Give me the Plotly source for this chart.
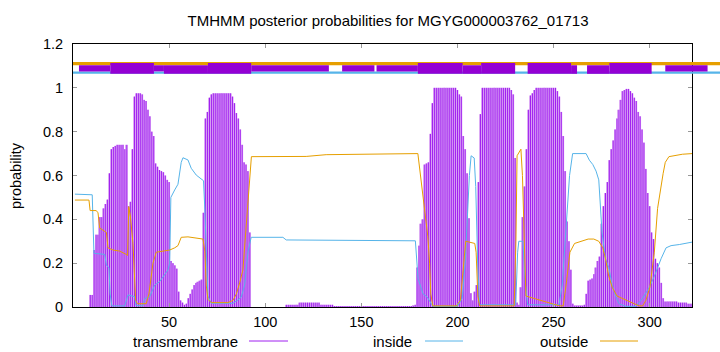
import plotly.graph_objects as go

# ---------------- data ----------------
residues = list(range(1, 323))
tm_prob = [
    0, 0, 0, 0, 0, 0, 0, 0, 0.055, 0.055,
    0.26, 0.33, 0.33, 0.41, 0.41, 0.45, 0.47, 0.49, 0.61, 0.72,
    0.73, 0.735, 0.74, 0.74, 0.74, 0.74, 0.72, 0.74, 0.46, 0.48,
    0.72, 0.96, 0.975, 0.975, 0.975, 0.97, 0.945, 0.94, 0.90, 0.87,
    0.80, 0.78, 0.655, 0.64, 0.625, 0.62, 0.615, 0.60, 0.58, 0.57,
    0.21, 0.20, 0.19, 0.175, 0.07, 0.03, 0.02, 0.01, 0.015, 0.04,
    0.06, 0.08, 0.10, 0.11, 0.115, 0.12, 0.125, 0.43, 0.86, 0.89,
    0.955, 0.97, 0.975, 0.975, 0.975, 0.975, 0.975, 0.975, 0.975, 0.975,
    0.975, 0.975, 0.96, 0.93, 0.885, 0.86, 0.81, 0.74, 0.66, 0.65,
    0.62, 0.34, 0, 0, 0, 0, 0, 0, 0, 0,
    0, 0, 0, 0, 0, 0, 0, 0, 0, 0,
    0.01, 0.01, 0.01, 0.01, 0.01, 0.01, 0.01, 0.02, 0.02, 0.02,
    0.02, 0.02, 0.02, 0.02, 0.02, 0.02, 0.02, 0.02, 0.01, 0.01,
    0.01, 0.01, 0.01, 0.01, 0.01, 0.004, 0.004, 0.004, 0.004, 0.004,
    0.004, 0.004, 0.004, 0.004, 0.004, 0.004, 0.004, 0.004, 0.004, 0.004,
    0.004, 0.004, 0.004, 0.004, 0.004, 0.004, 0.004, 0.004, 0.004, 0.004,
    0.004, 0.004, 0.004, 0.004, 0.004, 0.004, 0.004, 0.004, 0.004, 0.004,
    0.004, 0.004, 0.004, 0.004, 0.004, 0.004, 0.005, 0.01, 0.18, 0.28,
    0.38, 0.40, 0.65, 0.655, 0.66, 0.79, 0.93, 1.0, 1.0, 1.0,
    1.0, 1.0, 1.0, 1.0, 1.0, 1.0, 1.0, 1.0, 1.0, 0.99,
    0.97, 0.96, 0.78, 0.72, 0.61, 0.405, 0.063, 0.03, 0.07, 0.10,
    0.57, 0.88, 1.0, 1.0, 1.0, 1.0, 1.0, 1.0, 1.0, 1.0,
    1.0, 1.0, 1.0, 1.0, 1.0, 1.0, 1.0, 0.99, 0.97, 0.68,
    0.02, 0.01, 0.09, 0.41, 0.55, 0.72, 0.90, 0.965, 0.975, 0.99,
    1.0, 1.0, 1.0, 1.0, 1.0, 1.0, 1.0, 1.0, 1.0, 1.0,
    1.0, 0.985, 0.96, 0.89, 0.78, 0.62, 0.39, 0.30, 0.17, 0.015,
    0.005, 0.005, 0.005, 0.005, 0.005, 0.01, 0.06, 0.12, 0.125, 0.13,
    0.15, 0.18, 0.21, 0.23, 0.38, 0.46, 0.52, 0.57, 0.67, 0.72,
    0.76, 0.81, 0.86, 0.90, 0.945, 0.985, 0.99, 0.995, 0.995, 0.985,
    0.975, 0.955, 0.94, 0.89, 0.87, 0.81, 0.75, 0.63, 0.52, 0.46,
    0.34, 0.31, 0.22, 0.20, 0.18, 0.11, 0.04, 0.025, 0.025, 0.025,
    0.025, 0.025, 0.025, 0.025, 0.02, 0.02, 0.02, 0.02, 0.02, 0.015,
    0.015, 0.015,
]
assert len(tm_prob) == len(residues)

inside_x = [1, 10, 10.9, 14.7, 16.5, 17.4, 18.7, 19.3, 20.2, 26.9, 28.6, 32.1, 32.8, 36.4,
            37.3, 39.9, 42.5, 45.1, 47.7, 49.4, 50.3, 50.9, 52.9, 54.6, 56.3, 57.2, 59.8,
            61.5, 64.1, 66.7, 67.9, 68.6, 70.2, 71.9, 83.2, 85.5, 87.5, 89.3, 91.0, 92.7,
            109.2, 110.9, 178.1, 179.5, 180.5, 182.1, 184.3, 186.3, 187.2, 200, 202.5, 204,
            205, 206.2, 207.1, 208.7, 209.5, 210.5, 211.5, 230.3, 231.3, 231.9, 234.0,
            235.4, 236.5, 252.8, 254.5, 256.5, 258.3, 259.9, 266.9, 268.6, 270.4, 272.1,
            273.5, 275.2, 277.0, 278.7, 280.5, 282.3, 284, 287.6, 292.8, 296.3, 299.8,
            302.4, 304.1, 305.9, 308.5, 311.1, 315.4, 322]
inside_y = [0.515, 0.512, 0.245, 0.24, 0.24, 0.19, 0.18, 0.06, 0.005, 0.005, 0.055, 0.047,
            0.006, 0.006, 0.039, 0.047, 0.1, 0.116, 0.146, 0.169, 0.2, 0.5, 0.534, 0.56, 0.66,
            0.681, 0.671, 0.633, 0.602, 0.587, 0.576, 0.443, 0.05, 0.017, 0.017, 0.03, 0.045,
            0.1, 0.25, 0.318, 0.318, 0.306, 0.302, 0.13, 0.1, 0.06, 0.045, 0.02, 0.003, 0.003,
            0.04, 0.2, 0.4, 0.6, 0.69, 0.68, 0.55, 0.2, 0.01, 0.01, 0.25, 0.30, 0.30, 0.10,
            0.01, 0.01, 0.1, 0.35, 0.6, 0.70, 0.70, 0.67, 0.65, 0.62, 0.58, 0.34, 0.22, 0.18,
            0.1, 0.05, 0.015, 0.003, 0.003, 0.04, 0.09, 0.14, 0.18, 0.22, 0.27, 0.28, 0.285,
            0.296]

outside_x = [1, 8.3, 8.9, 12.1, 13.0, 13.9, 17.4, 18.2, 20.8, 24.3, 27.7, 28.4, 29.0, 29.9,
             31.2, 32.6, 33.5, 38.1, 39.5, 41.6, 43.3, 46.8, 50.3, 52.9, 54.6, 56.3, 59.8,
             67.6, 68.6, 69.3, 70.2, 71.9, 80.6, 83.2, 85.0, 86.7, 88.4, 90.1, 91.5, 92.8,
             121.3, 131.7, 179.4, 180.5, 181.5, 182.5, 184.6, 185.5, 186.1, 187.2, 199.4,
             201.5, 203.1, 204.3, 209.0, 209.7, 210.6, 211.5, 229.5, 230.4, 231, 233, 233.8,
             234.6, 235.6, 253.1, 255.0, 256.5, 258.5, 260.9, 268.0, 270.9, 273.5, 275.6,
             277.0, 278.7, 280.5, 283.0, 294.5, 296.3, 298.0, 300.1, 302.4, 304.1, 305.8,
             307.0, 308.1, 310, 317, 322]
outside_y = [0.488, 0.488, 0.44, 0.44, 0.43, 0.36, 0.34, 0.27, 0.26, 0.255, 0.24, 0.235,
             0.458, 0.41, 0.29, 0.03, 0.015, 0.015, 0.06, 0.2, 0.25, 0.255, 0.26, 0.27, 0.28,
             0.318, 0.32, 0.31, 0.255, 0.1, 0.035, 0.02, 0.02, 0.03, 0.06, 0.11, 0.17, 0.37,
             0.56, 0.686, 0.687, 0.695, 0.70, 0.62, 0.55, 0.45, 0.32, 0.2, 0.06, 0.005, 0.005,
             0.03, 0.2, 0.3, 0.29, 0.25, 0.05, 0.005, 0.005, 0.3, 0.69, 0.72, 0.6, 0.3, 0.05,
             0.005, 0.005, 0.1, 0.25, 0.29, 0.31, 0.31, 0.30, 0.27, 0.22, 0.14, 0.09, 0.05,
             0.005, 0.005, 0.03, 0.09, 0.25, 0.45, 0.55, 0.61, 0.66, 0.686, 0.697, 0.70, 0.705]

# predicted topology strip at the top (residue start, end)
strip_full = [0, 336.6]
tm_thick = [(19.4, 42.1), (70.2, 92.7), (179.4, 202.7), (212.3, 230.0), (236.5, 259.1), (279.0, 301.0)]
tm_medium = [(47.3, 70.2), (202.7, 212.3), (259.1, 262.2), (267.4, 279.0)]
tm_thin = [(3.1, 19.4), (42.1, 47.3), (92.7, 133.1), (140.0, 156.8), (157.9, 179.4), (308.1, 330.1)]

x_ticks = [50, 100, 150, 200, 250, 300]
y_ticks = [0, 0.2, 0.4, 0.6, 0.8, 1, 1.2]
title_text = "TMHMM posterior probabilities for MGYG000003762_01713"
legend_names = ["transmembrane", "inside", "outside"]

# ---------------- style ----------------
W, H = 720, 352
PL, PR, PT, PB = 73, 692, 44, 307
XMAX = 322
FONT = "Liberation Sans"
C_TM_DARK = "#a020f0"
C_TM_LIGHT = "#dcaaf4"
C_TOP = "#9400d3"
C_IN = "#56b4e9"
C_OUT = "#e69f00"

area_w = W - PL
main_frac = (PR - PL) / area_w


def px_x(p):
    return (p - PL) / area_w


def px_y(p):
    return (PB - p) / (PB - PT)


# impulse segments (one vertical stroke per residue)
imp_x, imp_y = [], []
for r, v in zip(residues, tm_prob):
    imp_x += [r, r, None]
    imp_y += [0, v, None]

fig = go.Figure()
fig.add_trace(go.Bar(x=residues, y=tm_prob, width=1.0, marker=dict(color=C_TM_LIGHT, line_width=0),
                     xaxis="x", yaxis="y", showlegend=False, hoverinfo="skip"))
fig.add_trace(go.Scatter(x=imp_x, y=imp_y, mode="lines", line=dict(color=C_TM_DARK, width=1),
                         xaxis="x", yaxis="y", showlegend=False, hoverinfo="skip"))
fig.add_trace(go.Scatter(x=inside_x, y=inside_y, mode="lines", line=dict(color=C_IN, width=1),
                         xaxis="x", yaxis="y", showlegend=False))
fig.add_trace(go.Scatter(x=outside_x, y=outside_y, mode="lines", line=dict(color=C_OUT, width=1),
                         xaxis="x", yaxis="y", showlegend=False))
# invisible trace to create the strip subplot
fig.add_trace(go.Scatter(x=[strip_full[0]], y=[0], mode="markers", marker=dict(opacity=0),
                         xaxis="x2", yaxis="y2", showlegend=False, hoverinfo="skip"))

shapes = []
shapes.append(dict(type="rect", xref="x2", yref="y2", x0=strip_full[0], x1=strip_full[1],
                   y0=1.103, y1=1.118, fillcolor=C_OUT, line_width=0, layer="above"))
shapes.append(dict(type="rect", xref="x2", yref="y2", x0=strip_full[0], x1=strip_full[1],
                   y0=1.064, y1=1.075, fillcolor=C_IN, line_width=0, layer="above"))
for a, b in tm_thin:
    shapes.append(dict(type="rect", xref="x2", yref="y2", x0=a, x1=b, y0=1.075, y1=1.103,
                       fillcolor=C_TOP, line_width=0, layer="above"))
for a, b in tm_medium:
    shapes.append(dict(type="rect", xref="x2", yref="y2", x0=a, x1=b, y0=1.064, y1=1.103,
                       fillcolor=C_TOP, line_width=0, layer="above"))
for a, b in tm_thick:
    shapes.append(dict(type="rect", xref="x2", yref="y2", x0=a, x1=b, y0=1.064, y1=1.113,
                       fillcolor=C_TOP, line_width=0, layer="above"))

# legend samples
legend_text_right = [240, 414, 590]
legend_line = [(249, 288), (425, 463), (600, 638)]
legend_colors = [C_TM_DARK, C_IN, C_OUT]
LEG_Y = 341
annotations = []
for name, tr, (l0, l1), col in zip(legend_names, legend_text_right, legend_line, legend_colors):
    annotations.append(dict(text=name, xref="paper", yref="paper", x=px_x(tr), y=px_y(LEG_Y),
                            xanchor="right", yanchor="middle", showarrow=False,
                            font=dict(family=FONT, size=15, color="black")))
    shapes.append(dict(type="line", xref="paper", yref="paper", x0=px_x(l0), x1=px_x(l1),
                       y0=px_y(LEG_Y), y1=px_y(LEG_Y), line=dict(color=col, width=1)))

annotations.append(dict(text="probability", xref="paper", yref="paper", x=px_x(16), y=px_y(176),
                        textangle=-90, xanchor="center", yanchor="middle", showarrow=False,
                        font=dict(family=FONT, size=14.5, color="black")))

axis_common = dict(showgrid=False, zeroline=False, showline=True, linecolor="black", linewidth=1,
                   mirror="ticks", ticks="inside", ticklen=4, tickcolor="#999999", tickwidth=1,
                   tickfont=dict(family=FONT, size=14.5, color="black"))

fig.update_layout(
    width=W, height=H,
    margin=dict(l=PL, r=0, t=PT, b=H - PB, pad=0),
    paper_bgcolor="white", plot_bgcolor="rgba(0,0,0,0)",
    barmode="overlay",
    showlegend=False,
    title=dict(text=title_text, x=388 / W, y=1 - 21 / H, xref="container", yref="container",
               xanchor="center", yanchor="middle", font=dict(family=FONT, size=15, color="black")),
    xaxis=dict(domain=[0, main_frac], range=[0, XMAX], tickvals=x_ticks, anchor="y",
               ticklabelstandoff=2, **axis_common),
    yaxis=dict(domain=[0, 1], range=[0, 1.2], tickvals=y_ticks, anchor="x",
               ticklabelstandoff=6, **axis_common),
    xaxis2=dict(domain=[0, 1], range=[0, XMAX * area_w / (PR - PL)], anchor="y2", visible=False),
    yaxis2=dict(domain=[0, 1], range=[0, 1.2], anchor="x2", visible=False),
    shapes=shapes,
    annotations=annotations,
)

fig.write_html("out.html")
